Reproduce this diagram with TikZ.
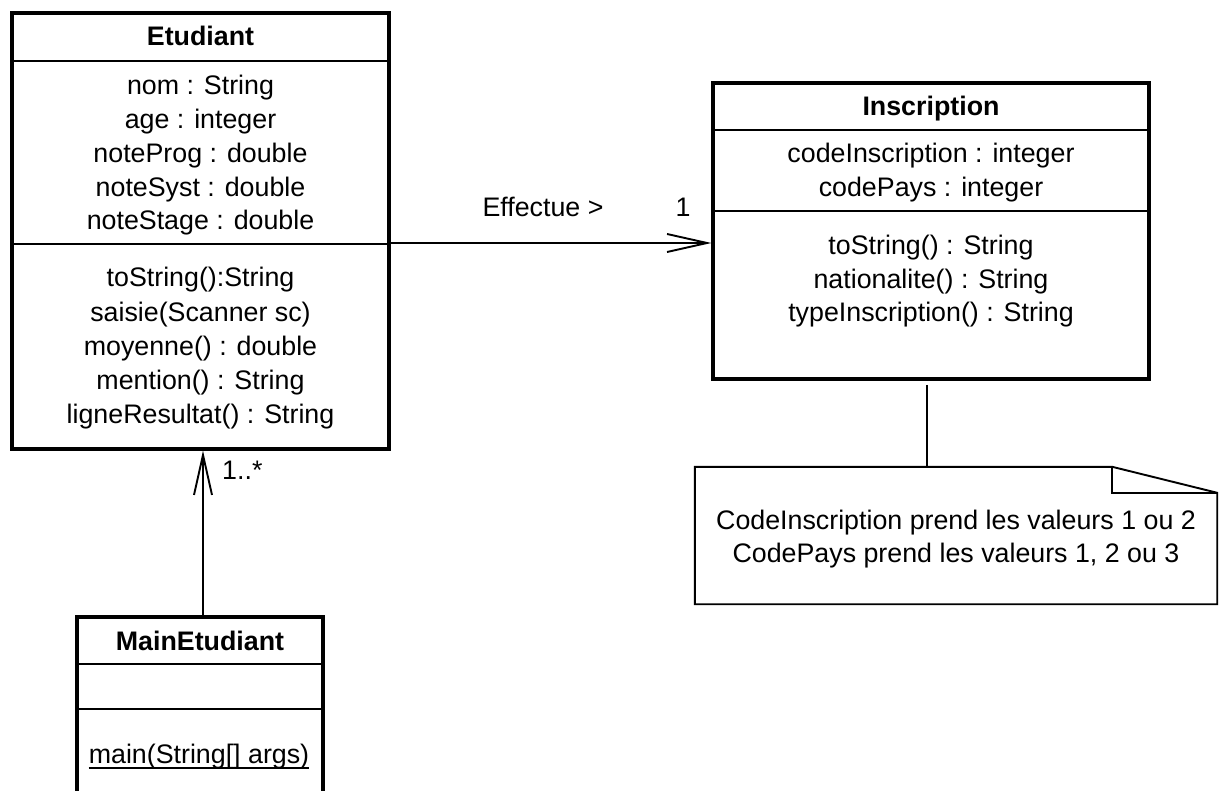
\documentclass[tikz,border=0pt]{standalone}
\usepackage{fontspec}
\setmainfont{Liberation Sans}
\usetikzlibrary{arrows.meta}
\begin{document}
\begin{tikzpicture}[x=1pt,y=-1pt,
  txt/.style={anchor=base, inner sep=0pt, font=\fontsize{26.8}{32}\selectfont},
  ttl/.style={anchor=base, inner sep=0pt, font=\fontsize{26.8}{32}\selectfont\bfseries},
  classbox/.style={draw, line width=3.2pt, inner sep=0pt},
  sepline/.style={line width=2.6pt},
  conn/.style={line width=1.9pt},
  opentip/.style={conn, -{Straight Barb[length=40pt,width=18pt]}},
  noteline/.style={line width=1.9pt, line join=miter}
]
\useasboundingbox (0,0) rectangle (1221,791);
\clip (0,0) rectangle (1221,791);

% ---------- Etudiant ----------
\node[classbox, minimum width=377pt, minimum height=436pt] (etud) at (200.5,231) {};
\draw[sepline] (etud.west |- 0,61) -- (etud.east |- 0,61);
\draw[sepline] (etud.west |- 0,244) -- (etud.east |- 0,244);
\node[ttl] (etud-t) at (200.5,46) {Etudiant};
\foreach \t [count=\i] in {nom : String, age : integer, noteProg : double, noteSyst : double, noteStage : double}
  \node[txt] (etud-a\i) at (200.5, {95+33.75*(\i-1)}) {\t};
\foreach \t [count=\i] in {toString():String, saisie(Scanner sc), moyenne() : double, mention() : String, ligneResultat() : String}
  \node[txt] (etud-m\i) at (200.5, {287+34.2*(\i-1)}) {\t};

% ---------- Inscription ----------
\node[classbox, minimum width=436pt, minimum height=296pt] (insc) at (931,231) {};
\draw[sepline] (insc.west |- 0,130) -- (insc.east |- 0,130);
\draw[sepline] (insc.west |- 0,211) -- (insc.east |- 0,211);
\node[ttl] (insc-t) at (931,116) {Inscription};
\foreach \t [count=\i] in {codeInscription : integer, codePays : integer}
  \node[txt] (insc-a\i) at (931, {163+34*(\i-1)}) {\t};
\foreach \t [count=\i] in {toString() : String, nationalite() : String, typeInscription() : String}
  \node[txt] (insc-m\i) at (931, {255+33.5*(\i-1)}) {\t};

% ---------- MainEtudiant ----------
\node[classbox, minimum width=246pt, minimum height=213pt] (mainE) at (200,723.5) {};
\draw[sepline] (mainE.west |- 0,664) -- (mainE.east |- 0,664);
\draw[sepline] (mainE.west |- 0,709) -- (mainE.east |- 0,709);
\node[ttl] (mainE-t) at (200,650) {MainEtudiant};
\node[txt] (mainE-m1) at (199,763) {main(String[] args)};
\draw[line width=2pt] ([yshift=-5pt]mainE-m1.base west) -- ([yshift=-5pt]mainE-m1.base east);

% ---------- Note ----------
\node[minimum width=522pt, minimum height=137pt, inner sep=0pt] (note) at (956,535.5) {};
\draw[noteline] (note.north west) -- ([xshift=-105pt]note.north east) -- ([yshift=-26pt]note.north east) -- (note.south east) -- (note.south west) -- cycle;
\draw[noteline] ([xshift=-105pt]note.north east) -- ([xshift=-105pt,yshift=-26pt]note.north east) -- ([yshift=-26pt]note.north east);
\node[txt] (note-l1) at (956,529) {CodeInscription prend les valeurs 1 ou 2};
\node[txt] (note-l2) at (956,562) {{CodePays prend les valeurs 1, 2 ou 3}};
\coordinate (nt) at (927,385);
\draw[conn] (nt) -- (note.north -| nt);

% ---------- Associations ----------
\coordinate (ay) at (0,243);
\draw[opentip] (etud.east |- ay) -- (insc.west |- ay);
\node[txt] (lbl-eff) at (543,217) {Effectue >};
\node[txt] (lbl-1) at (683,217) {1};

\coordinate (ax) at (203,0);
\draw[opentip] (mainE.north -| ax) -- (etud.south -| ax);
\node[txt, anchor=base west] (lbl-many) at (222,479) {1..*};
\end{tikzpicture}
\end{document}
